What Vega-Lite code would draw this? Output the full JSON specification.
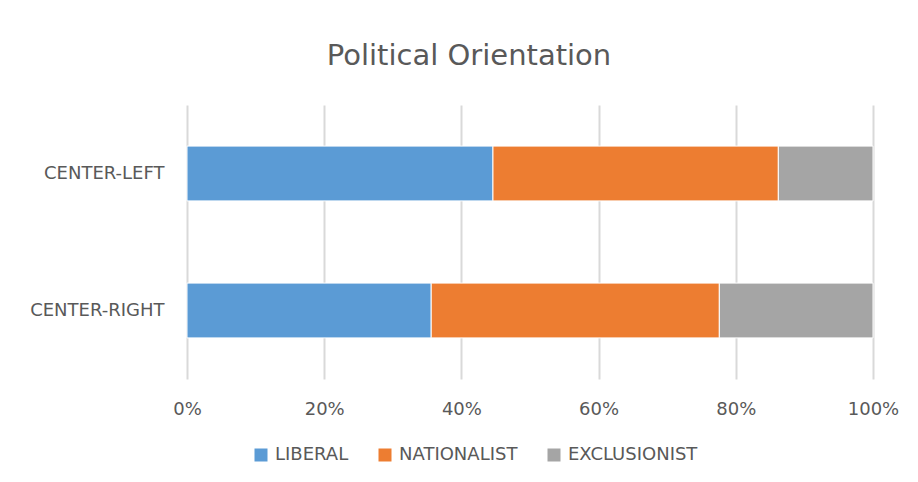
{
  "$schema": "https://vega.github.io/schema/vega-lite/v6.json",
  "width": 686,
  "height": 274,
  "autosize": {"type": "none"},
  "padding": {"left": 187, "top": 105, "right": 45, "bottom": 103},
  "background": "white",
  "title": {"text": "Political Orientation", "fontSize": 29, "font": "DejaVu Sans", "fontWeight": "normal", "color": "#595959", "anchor": "middle", "dx": -61, "offset": 11, "baseline": "alphabetic"},
  "data": {"values": [
    {"orientation": "CENTER-LEFT", "group": "LIBERAL", "order": 1, "share": 44.6},
    {"orientation": "CENTER-LEFT", "group": "NATIONALIST", "order": 2, "share": 41.6},
    {"orientation": "CENTER-LEFT", "group": "EXCLUSIONIST", "order": 3, "share": 13.8},
    {"orientation": "CENTER-RIGHT", "group": "LIBERAL", "order": 1, "share": 35.6},
    {"orientation": "CENTER-RIGHT", "group": "NATIONALIST", "order": 2, "share": 42.0},
    {"orientation": "CENTER-RIGHT", "group": "EXCLUSIONIST", "order": 3, "share": 22.4}
  ]},
  "mark": {"type": "bar", "stroke": "white", "strokeWidth": 1},
  "encoding": {
    "y": {"field": "orientation", "type": "nominal", "sort": ["CENTER-LEFT", "CENTER-RIGHT"], "scale": {"paddingInner": 0.6, "paddingOuter": 0.3},
      "axis": {"title": null, "domain": false, "ticks": false, "labelPadding": 23, "labelFontSize": 18, "labelFont": "DejaVu Sans", "labelColor": "#595959"}},
    "x": {"field": "share", "type": "quantitative", "stack": "normalize", "scale": {"domain": [0, 1]},
      "axis": {"title": null, "format": ".0%", "values": [0, 0.2, 0.4, 0.6, 0.8, 1], "domain": false, "ticks": false, "grid": true, "gridColor": "#d9d9d9", "gridWidth": 2, "labelFlush": false, "labelAlign": "center", "labelPadding": 21, "labelFontSize": 18, "labelFont": "DejaVu Sans", "labelColor": "#595959"}},
    "color": {"field": "group", "type": "nominal",
      "scale": {"domain": ["LIBERAL", "NATIONALIST", "EXCLUSIONIST"], "range": ["#5B9BD5", "#ED7D31", "#A5A5A5"]},
      "legend": {"title": null, "orient": "none", "legendX": 65, "legendY": 341, "direction": "horizontal", "symbolType": "square", "symbolSize": 169, "symbolStrokeWidth": 0, "labelFontSize": 18, "labelOffset": 5, "columnPadding": 27, "labelColor": "#595959", "labelFont": "DejaVu Sans"}},
    "order": {"field": "order", "type": "quantitative"}
  },
  "config": {"view": {"stroke": null}}
}
